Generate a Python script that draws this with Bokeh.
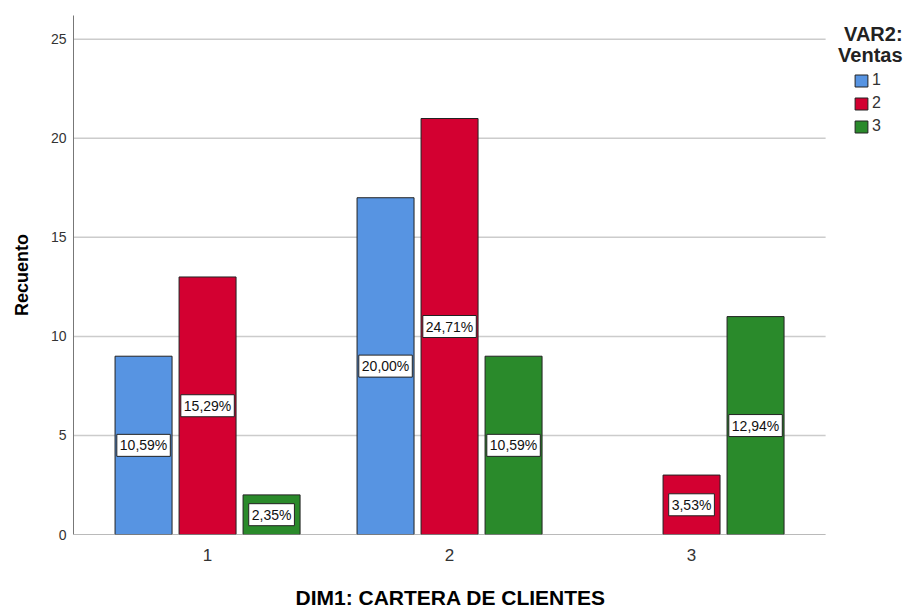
from bokeh.plotting import figure
from bokeh.models import (ColumnDataSource, Legend, LegendItem, Label, Title,
                          FixedTicker, Range1d)
from bokeh.core.properties import value
from bokeh.embed import file_html
from bokeh.resources import INLINE

# DIM1 categories and counts per VAR2 level
categories = [1, 2, 3]
ventas_1 = [9, 17, 0]
ventas_2 = [13, 21, 3]
ventas_3 = [2, 9, 11]
series_names = ["1", "2", "3"]
total = 85
y_ticks = [0, 5, 10, 15, 20, 25]

FONT = "Liberation Sans"
colors = ["#5794e2", "#d30031", "#2a8a2b"]

# plotting area spans the full width; the data region ends at X_END
X_START, X_END, X_FULL = 0.446, 3.554, 3.880
BAR_W = 0.2355
STEP = 0.2645

p = figure(width=904, height=608, output_backend="svg", toolbar_location=None,
           x_range=Range1d(X_START, X_FULL), y_range=Range1d(0, 26.2),
           min_border_left=73, min_border_right=0, min_border_top=15, min_border_bottom=70)

p.outline_line_color = None
p.background_fill_color = "white"
p.border_fill_color = "white"
p.xgrid.grid_line_color = None
p.ygrid.grid_line_color = None

# horizontal grid lines, limited to the data region
grid_y = y_ticks[1:]
p.segment(x0=[X_START] * len(grid_y), x1=[X_END] * len(grid_y), y0=grid_y, y1=grid_y,
          line_color="#cccccc", line_width=1.5)

series = [ventas_1, ventas_2, ventas_3]
renderers = []
lab_x, lab_y, lab_t = [], [], []
for i, vals in enumerate(series):
    off = (i - 1) * STEP
    pts = [(c + off, v) for c, v in zip(categories, vals) if v > 0]
    src = ColumnDataSource(dict(x=[q[0] for q in pts], top=[q[1] for q in pts]))
    r = p.vbar(x="x", top="top", width=BAR_W, bottom=0, source=src,
               fill_color=colors[i], line_color="#222222", line_width=1)
    renderers.append(r)
    for x, v in pts:
        lab_x.append(x)
        lab_y.append(v / 2)
        lab_t.append(("%.2f%%" % (v / total * 100)).replace(".", ","))

# baseline of the category axis
p.segment(x0=[X_START], x1=[X_END], y0=[0], y1=[0], line_color="#777777", line_width=1.2)

# percentage boxes centred on each bar
p.text(x=lab_x, y=lab_y, text=lab_t,
       text_align="center", text_baseline="middle",
       text_font=value(FONT), text_font_size="14px", text_color="#111111",
       background_fill_color="white", border_line_color="#222222",
       border_line_width=1, padding=3)

# axes
p.xaxis.ticker = FixedTicker(ticks=categories)
p.yaxis.ticker = FixedTicker(ticks=y_ticks)
p.yaxis.axis_label = "Recuento"
for ax in (p.xaxis[0], p.yaxis[0]):
    ax.axis_line_color = "#777777"
    ax.major_tick_line_color = None
    ax.minor_tick_line_color = None
    ax.major_tick_out = 0
    ax.major_tick_in = 0
    ax.major_label_text_font = FONT
    ax.major_label_text_color = "#333333"
    ax.axis_label_text_font = FONT
    ax.axis_label_text_font_style = "bold"
    ax.axis_label_text_color = "#000000"
p.xaxis.axis_line_color = None
p.xaxis.major_label_text_font_size = "17px"
p.xaxis.major_label_standoff = 14
# blank label used as vertical spacing before the axis title
p.xaxis.axis_label = " "
p.xaxis.axis_label_text_font_size = "1px"
p.xaxis.axis_label_standoff = 16
p.yaxis.major_label_text_font_size = "14px"
p.yaxis.major_label_standoff = 7
p.yaxis.axis_label_text_font_size = "18px"
p.yaxis.axis_label_standoff = 16

# category axis title, centred under the data region
p.add_layout(Title(text="DIM1: CARTERA DE CLIENTES", align="left", offset=222,
                   text_font=FONT, text_font_style="bold", text_font_size="21px",
                   text_color="#000000", standoff=0), "below")

# legend
legend = Legend(items=[LegendItem(label=k, renderers=[r]) for k, r in zip(series_names, renderers)],
                location=(780, 399), glyph_width=16, glyph_height=15, label_height=15,
                spacing=5, label_standoff=3, padding=0, margin=0, background_fill_alpha=0,
                border_line_color=None, label_text_font=FONT, label_text_font_size="16px",
                label_text_color="#333333")
p.add_layout(legend)

for txt, yv in (("VAR2:", 25.25), ("Ventas", 24.2)):
    p.add_layout(Label(x=3.872, y=yv, text=txt, text_align="right", text_baseline="middle",
                       text_font=FONT, text_font_style="bold", text_font_size="20px",
                       text_color="#222222"))

open("out.html", "w").write(file_html(p, INLINE))
